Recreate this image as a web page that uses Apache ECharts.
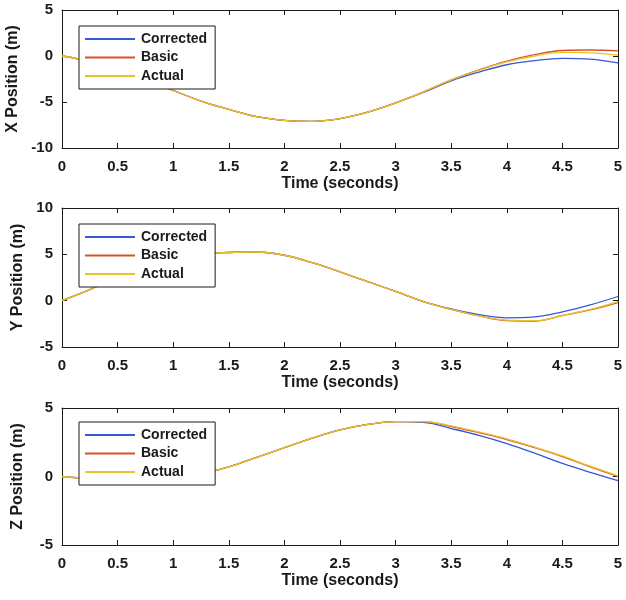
<!DOCTYPE html>
<html>
<head>
<meta charset="utf-8">
<script src="https://cdn.jsdelivr.net/npm/echarts@6/dist/echarts.min.js"></script>
<style>
  html, body { margin: 0; padding: 0; background: #fff; }
  #chart { width: 626px; height: 600px; }
</style>
</head>
<body>
<div id="chart"></div>
<script>
// Sample times (s)
const time = [0, 0.25, 0.5, 0.75, 1, 1.25, 1.5, 1.75, 2, 2.25, 2.5, 2.75, 3, 3.25, 3.5, 3.75, 4, 4.25, 4.5, 4.75, 5];

// X position (m)
const xCorrected = [0, -0.6, -1.6, -2.7, -3.75, -4.9, -5.8, -6.6, -7.0, -7.1, -6.8, -6.1, -5.1, -3.95, -2.7, -1.75, -0.95, -0.5, -0.25, -0.35, -0.75];
const xBasic     = [0, -0.6, -1.6, -2.7, -3.75, -4.9, -5.8, -6.6, -7.0, -7.1, -6.8, -6.1, -5.1, -3.9, -2.6, -1.5, -0.55, 0.15, 0.6, 0.65, 0.55];
const xActual    = [0, -0.6, -1.6, -2.7, -3.75, -4.9, -5.8, -6.6, -7.0, -7.1, -6.8, -6.1, -5.1, -3.9, -2.6, -1.55, -0.65, 0.0, 0.4, 0.35, 0.1];

// Y position (m)
const yCorrected = [0, 1.2, 2.5, 3.6, 4.4, 5.0, 5.2, 5.25, 4.9, 4.1, 3.1, 2.05, 1.0, -0.1, -0.9, -1.5, -1.85, -1.75, -1.2, -0.45, 0.45];
const yBasic     = [0, 1.2, 2.5, 3.6, 4.4, 5.0, 5.2, 5.25, 4.9, 4.1, 3.1, 2.05, 1.0, -0.1, -0.95, -1.65, -2.15, -2.2, -1.6, -1.0, -0.2];
const yActual    = [0, 1.2, 2.5, 3.6, 4.4, 5.0, 5.2, 5.25, 4.9, 4.1, 3.1, 2.05, 1.0, -0.1, -0.95, -1.65, -2.1, -2.15, -1.6, -0.95, -0.1];

// Z position (m)
const zCorrected = [0, -0.15, -0.25, -0.2, -0.05, 0.2, 0.7, 1.4, 2.1, 2.8, 3.4, 3.8, 4.0, 3.95, 3.5, 3.0, 2.4, 1.7, 0.95, 0.3, -0.3];
const zBasic     = [0, -0.15, -0.25, -0.2, -0.05, 0.2, 0.7, 1.4, 2.1, 2.8, 3.4, 3.8, 4.0, 4.0, 3.65, 3.2, 2.7, 2.1, 1.45, 0.7, 0.0];
const zActual    = [0, -0.15, -0.25, -0.2, -0.05, 0.2, 0.7, 1.4, 2.1, 2.8, 3.4, 3.8, 4.0, 4.0, 3.7, 3.25, 2.75, 2.15, 1.5, 0.75, 0.05];

const seriesNames = ['Corrected', 'Basic', 'Actual'];
const colors = ['#3558d8', '#d9532a', '#e8c42a'];

const panels = [
  { label: 'X Position (m)', min: -10, max: 5, data: [xCorrected, xBasic, xActual] },
  { label: 'Y Position (m)', min: -5, max: 10, data: [yCorrected, yBasic, yActual] },
  { label: 'Z Position (m)', min: -5, max: 5, data: [zCorrected, zBasic, zActual] }
];

const gridBoxes = [
  { top: 10, height: 138 },
  { top: 208, height: 139 },
  { top: 408, height: 137 }
];
const legendTops = [26, 224, 422];

const FONT = 'Liberation Sans, Arial, sans-serif';
const INK = '#1a1a1a';

const grid = [], xAxis = [], yAxis = [], series = [], legend = [];

panels.forEach((p, i) => {
  grid.push({
    left: 62, right: 8, top: gridBoxes[i].top, height: gridBoxes[i].height,
    containLabel: false, outerBoundsMode: 'none'
  });

  const tickStyle = { show: true, inside: true, length: 5, lineStyle: { color: INK, width: 1 } };
  const lineStyle = { show: true, onZero: false, lineStyle: { color: INK, width: 1 } };

  // bottom time axis
  xAxis.push({
    type: 'value', gridIndex: i, min: 0, max: 5, interval: 0.5, position: 'bottom',
    name: 'Time (seconds)', nameLocation: 'middle', nameGap: 28,
    nameTextStyle: { fontFamily: FONT, fontSize: 16, fontWeight: 'bold', color: INK },
    axisLine: lineStyle, axisTick: tickStyle,
    axisLabel: { margin: 11, fontFamily: FONT, fontSize: 15, fontWeight: 'bold', color: INK },
    splitLine: { show: false }
  });
  // top mirror axis closing the box
  xAxis.push({
    type: 'value', gridIndex: i, min: 0, max: 5, interval: 0.5, position: 'top',
    axisLine: lineStyle, axisTick: tickStyle, axisLabel: { show: false }, splitLine: { show: false }
  });

  yAxis.push({
    type: 'value', gridIndex: i, min: p.min, max: p.max, interval: 5, position: 'left',
    name: p.label, nameLocation: 'middle', nameGap: 36, nameRotate: 90,
    nameTextStyle: { fontFamily: FONT, fontSize: 16, fontWeight: 'bold', color: INK },
    axisLine: lineStyle, axisTick: tickStyle,
    axisLabel: { margin: 9, fontFamily: FONT, fontSize: 15, fontWeight: 'bold', color: INK },
    splitLine: { show: false }
  });
  yAxis.push({
    type: 'value', gridIndex: i, min: p.min, max: p.max, interval: 5, position: 'right',
    axisLine: lineStyle, axisTick: tickStyle, axisLabel: { show: false }, splitLine: { show: false }
  });

  p.data.forEach((vals, k) => {
    series.push({
      name: seriesNames[k], type: 'line',
      xAxisIndex: i * 2, yAxisIndex: i * 2,
      data: time.map((t, j) => [t, vals[j]]),
      smooth: 0.4, showSymbol: false, symbol: 'none',
      lineStyle: { color: colors[k], width: 1.3 },
      itemStyle: { color: colors[k] },
      z: 2
    });
  });

  legend.push({
    data: seriesNames, orient: 'vertical', left: 79, top: legendTops[i], z: 10,
    backgroundColor: '#fff', borderColor: INK, borderWidth: 1, borderRadius: 0,
    padding: [5, 8, 5, 6], itemWidth: 50, itemHeight: 2, itemGap: 2.5,
    icon: 'rect', selectedMode: false,
    textStyle: { fontFamily: FONT, fontSize: 14, fontWeight: 'bold', color: INK, lineHeight: 16, padding: [0, 0, 0, 1] }
  });
});

const chart = echarts.init(document.getElementById('chart'), null, { renderer: 'canvas' });
chart.setOption({
  backgroundColor: '#fff',
  animation: false,
  color: colors,
  grid, xAxis, yAxis, series, legend
});
</script>
</body>
</html>
